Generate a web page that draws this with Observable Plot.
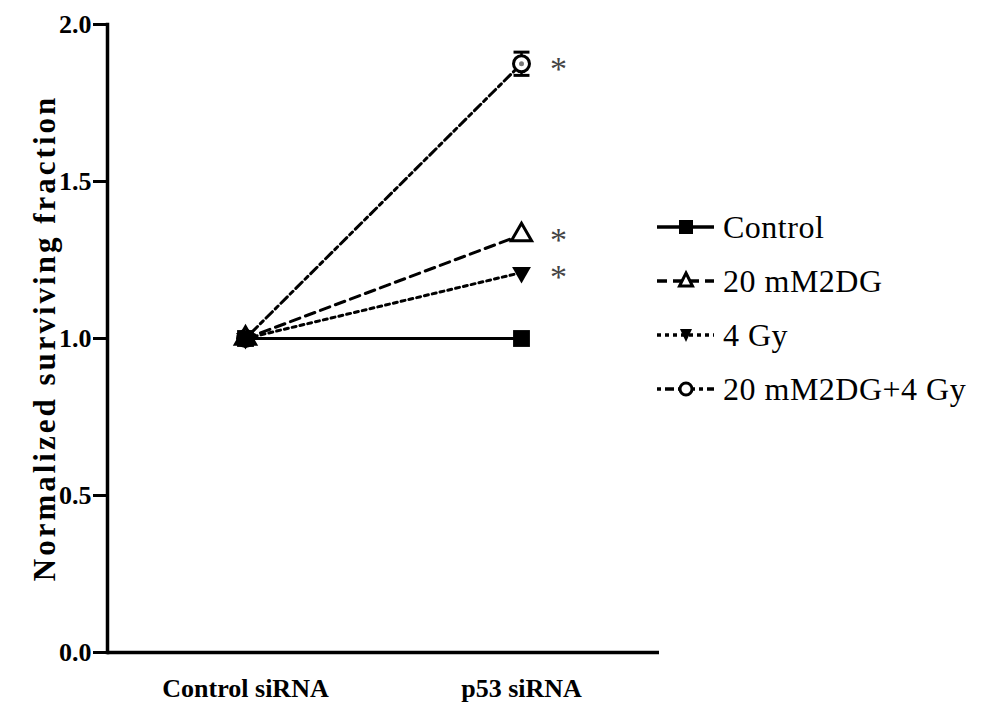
<!DOCTYPE html>
<html><head><meta charset="utf-8">
<script src="https://cdn.jsdelivr.net/npm/d3@7"></script>
<script src="https://cdn.jsdelivr.net/npm/@observablehq/plot@0.6"></script>
<style>
body{margin:0;background:#fff;}
#wrap{position:relative;width:985px;height:704px;color:#000;}
#ylabel{position:absolute;left:45px;top:338px;transform:translate(-50%,-50%) rotate(-90deg);white-space:nowrap;font-weight:bold;font-size:31px;letter-spacing:3px;}
#legend{position:absolute;left:655px;top:200px;}
.row{display:flex;align-items:center;height:54px;font-size:32px;letter-spacing:0.5px;}
.row svg{margin-right:6px;}
</style></head><body><div id="wrap"><div id="ylabel">Normalized surviving fraction</div><div id="legend"></div></div>
<script>
const groups = ["Control siRNA", "p53 siRNA"];
const seriesNames = ["Control", "20 mM2DG", "4 Gy", "20 mM2DG+4 Gy"];
const controlValues = [1.0, 1.0];
const dgValues = [1.0, 1.33];
const gyValues = [1.0, 1.21];
const comboValues = [1.0, 1.875];
const comboErrors = [0, 0.037];
const starredSeries = ["20 mM2DG", "4 Gy", "20 mM2DG+4 Gy"];
const yTicks = [0, 0.5, 1.0, 1.5, 2.0];

const FONT = '"Liberation Serif", "Times New Roman", Times, serif';
document.getElementById("wrap").style.fontFamily = FONT;

const valuesBySeries = [controlValues, dgValues, gyValues, comboValues];
const rows = seriesNames.flatMap((s, i) => groups.map((g, j) => ({series: s, group: g, value: valuesBySeries[i][j]})));
const of = s => rows.filter(d => d.series === s);
const errRows = groups.map((g, j) => ({group: g, lo: comboValues[j] - comboErrors[j], hi: comboValues[j] + comboErrors[j]})).filter((d, j) => comboErrors[j] > 0);
const starRows = rows.filter(d => d.group === "p53 siRNA" && starredSeries.includes(d.series));

const triangleDown = {draw(ctx, size) {
  const y = -Math.sqrt(size / (Math.sqrt(3) * 3));
  ctx.moveTo(0, -y * 2); ctx.lineTo(-Math.sqrt(3) * y, y); ctx.lineTo(Math.sqrt(3) * y, y); ctx.closePath();
}};
const hline = {draw(ctx, size) { const w = Math.sqrt(size) / 2; ctx.moveTo(-w, 0); ctx.lineTo(w, 0); }};

const styles = {
  "Control": {dash: null},
  "20 mM2DG": {dash: "10,6"},
  "4 Gy": {dash: "4,4"},
  "20 mM2DG+4 Gy": {dash: "4,4,9,4"}
};

const plot = Plot.plot({
  width: 985, height: 704,
  marginLeft: 107, marginRight: 326, marginTop: 24, marginBottom: 52,
  style: {fontFamily: FONT, color: "#000", background: "transparent"},
  x: {type: "point", domain: groups, padding: 0.5},
  y: {domain: [0, 2]},
  marks: [
    Plot.axisY({ticks: yTicks, tickFormat: d3.format(".1f"), tickSize: 14, tickPadding: 2, fontSize: 26, fontWeight: "bold", strokeWidth: 3, label: null}),
    Plot.axisX({tickSize: 0, tickPadding: 26, fontSize: 26, fontWeight: "bold", label: null}),
    Plot.frame({anchor: "left", strokeWidth: 3.5}),
    Plot.ruleY([0], {strokeWidth: 3.5}),
    ...["20 mM2DG+4 Gy", "4 Gy", "20 mM2DG", "Control"].map(s =>
      Plot.line(of(s), {x: "group", y: "value", stroke: "#000", strokeWidth: 3, strokeDasharray: styles[s].dash})),
    Plot.ruleX(errRows, {x: "group", y1: "lo", y2: "hi", stroke: "#000", strokeWidth: 2.5}),
    Plot.dot(errRows, {x: "group", y: "lo", symbol: hline, r: 9, stroke: "#000", strokeWidth: 3}),
    Plot.dot(errRows, {x: "group", y: "hi", symbol: hline, r: 9, stroke: "#000", strokeWidth: 3}),
    Plot.dot(of("20 mM2DG+4 Gy"), {x: "group", y: "value", symbol: "circle", r: 8, fill: "#fff", stroke: "#000", strokeWidth: 3}),
    Plot.dot(of("20 mM2DG+4 Gy"), {x: "group", y: "value", r: 2.5, fill: "#777"}),
    Plot.dot(of("20 mM2DG"), {x: "group", y: "value", symbol: "triangle", r: 7.5, fill: "#fff", stroke: "#000", strokeWidth: 3}),
    Plot.dot(of("4 Gy"), {x: "group", y: "value", symbol: triangleDown, r: 7, fill: "#000"}),
    Plot.dot(of("Control"), {x: "group", y: "value", symbol: "square", r: 9.5, fill: "#000"}),
    Plot.text(starRows, {x: "group", y: "value", text: () => "*", dx: 37, dy: 5, fontSize: 34, fill: "#444"})
  ]
});
document.getElementById("wrap").appendChild(plot);
plot.style.position = "absolute"; plot.style.left = "0"; plot.style.top = "0";

// legend
const leg = document.getElementById("legend");
leg.style.fontFamily = FONT;
document.getElementById("ylabel").style.fontFamily = FONT;
const markerSvg = {
  "Control": '<rect x="24" y="8" width="14" height="14" fill="#000"/>',
  "20 mM2DG": '<path d="M31,7 L37.5,20 L24.5,20 Z" fill="#fff" stroke="#000" stroke-width="3"/>',
  "4 Gy": '<path d="M31,22 L37,9 L25,9 Z" fill="#000"/>',
  "20 mM2DG+4 Gy": '<circle cx="31" cy="15" r="6" fill="#fff" stroke="#000" stroke-width="3"/>'
};
seriesNames.forEach(s => {
  const row = document.createElement("div");
  row.className = "row";
  row.style.fontFamily = FONT;
  const dash = styles[s].dash ? ` stroke-dasharray="${styles[s].dash}"` : "";
  row.innerHTML = `<svg width="62" height="30"><line x1="2" y1="15" x2="59" y2="15" stroke="#000" stroke-width="3.5"${dash}/>${markerSvg[s]}</svg><span>${s}</span>`;
  leg.appendChild(row);
});
</script>
</body></html>
